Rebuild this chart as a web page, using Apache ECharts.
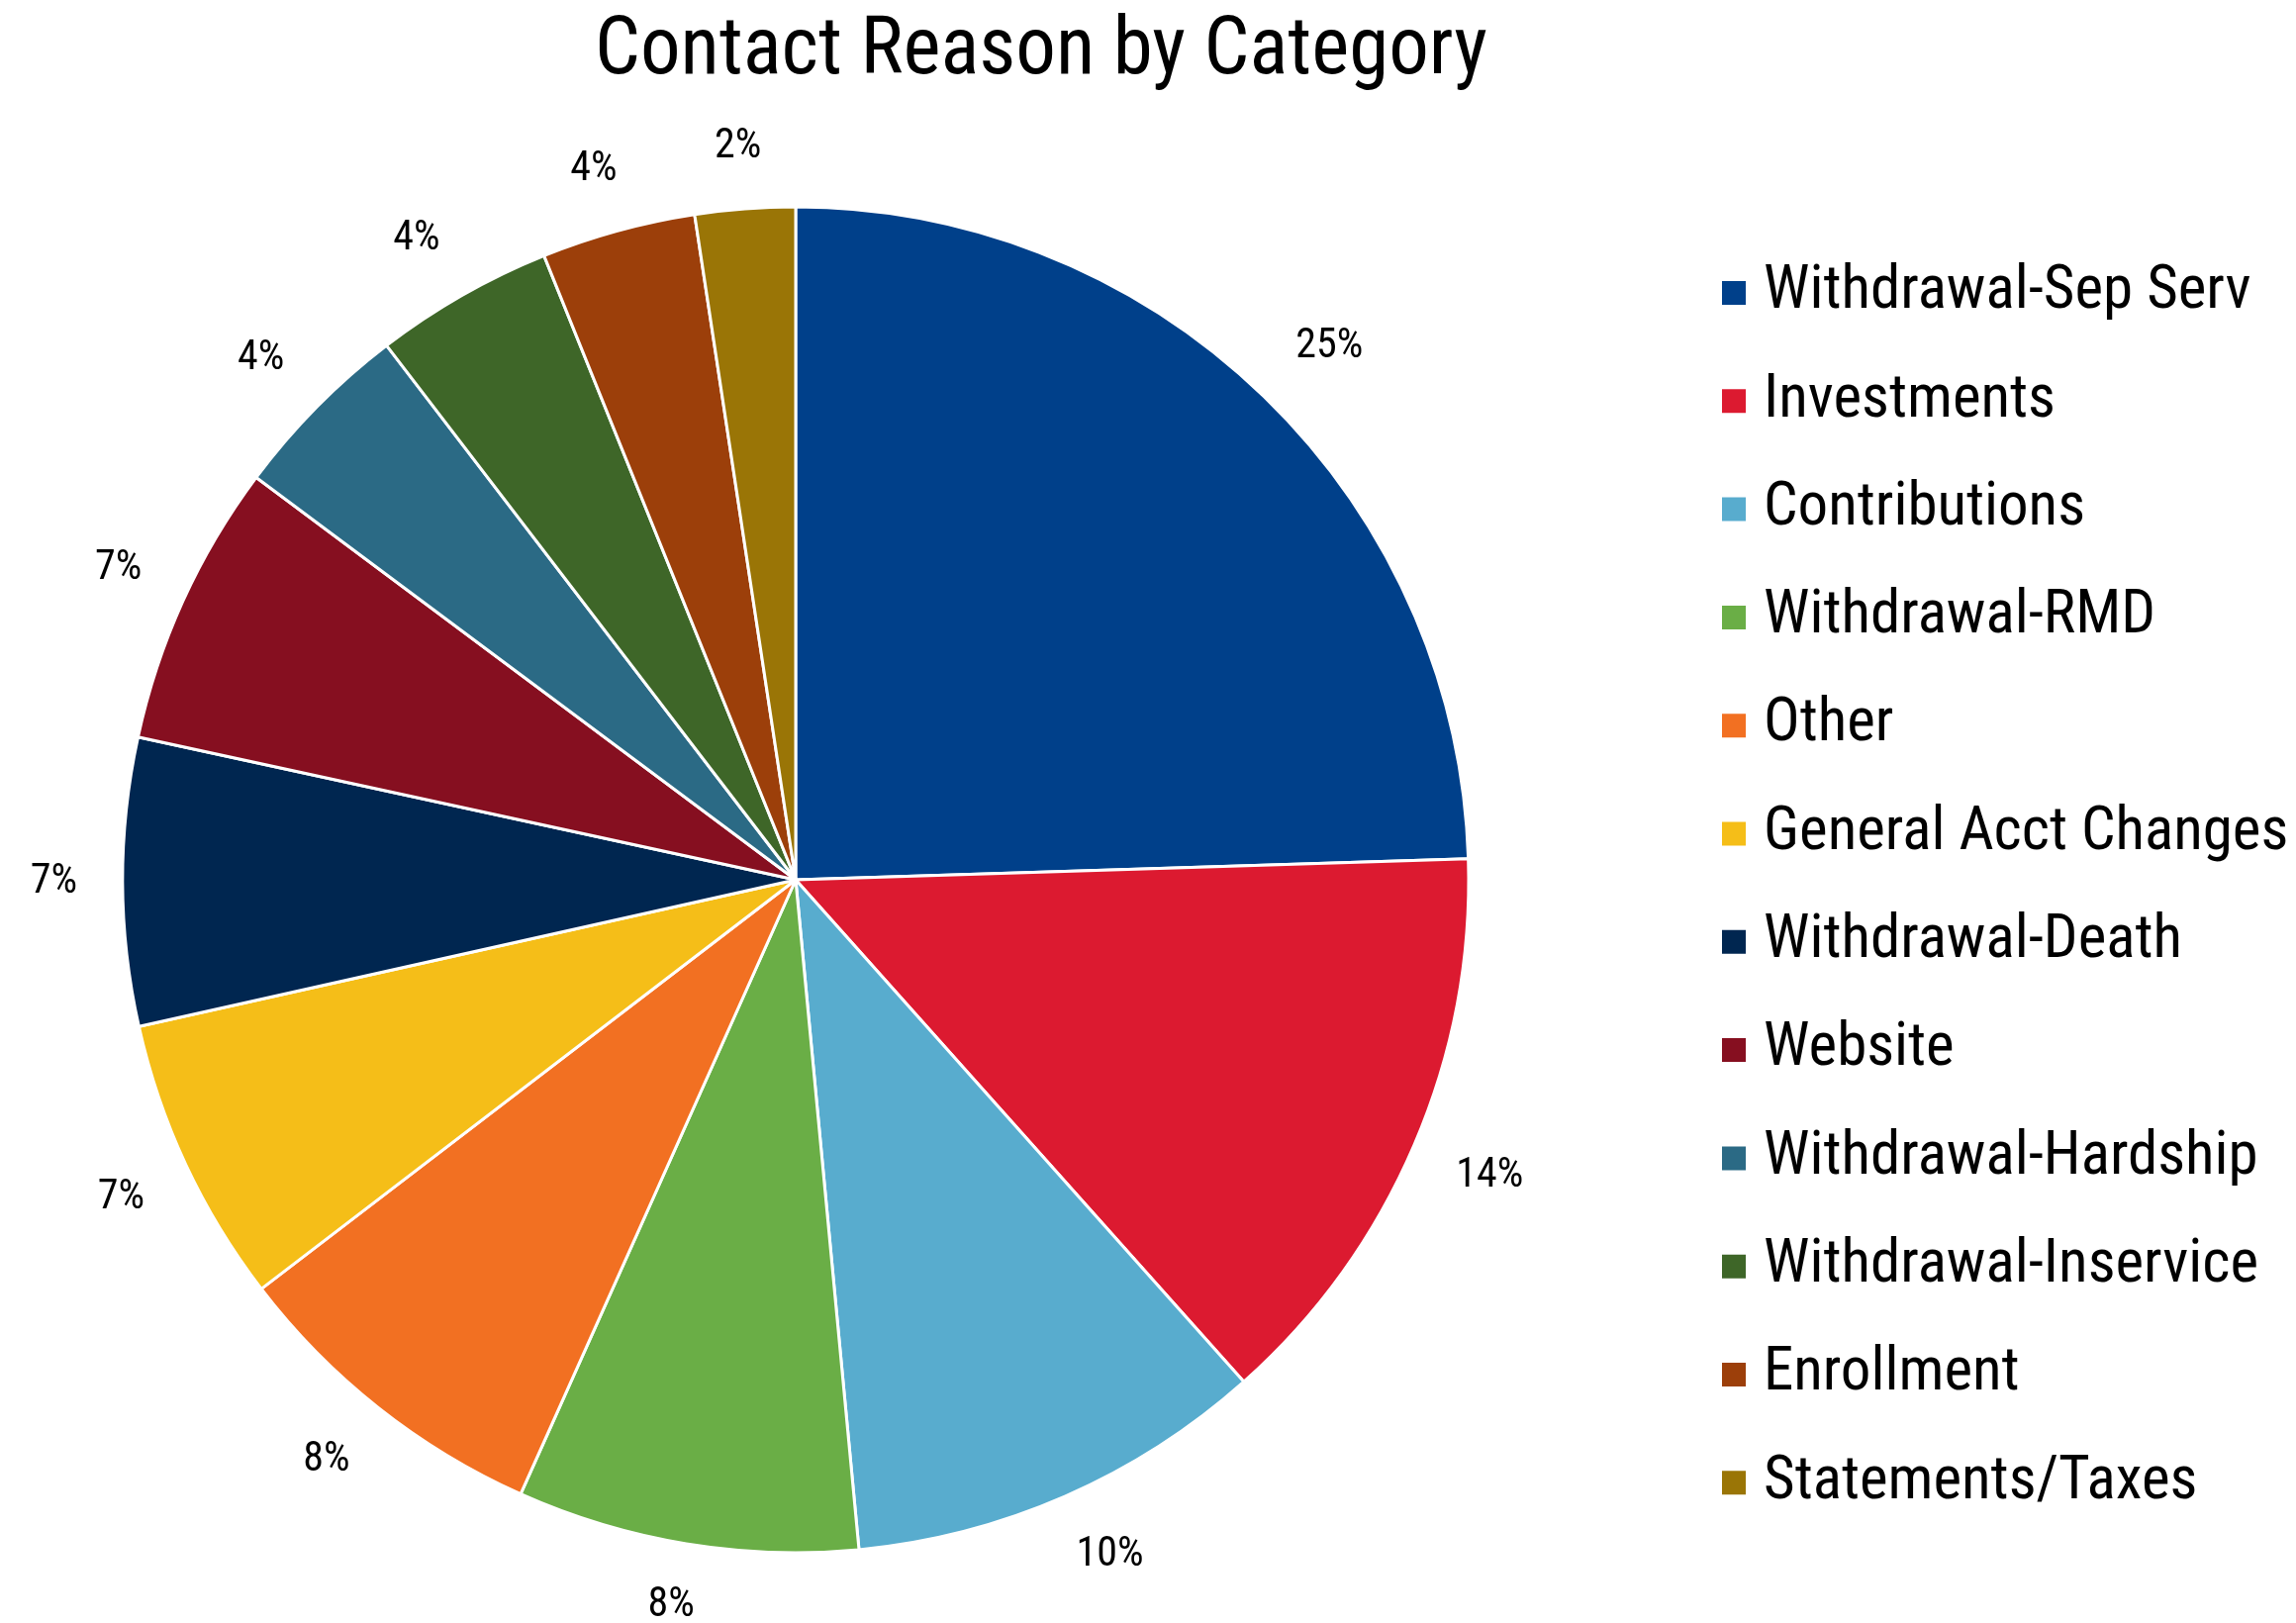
<!DOCTYPE html>
<html>
<head>
<meta charset="utf-8">
<script src="https://cdn.jsdelivr.net/npm/echarts@6/dist/echarts.min.js"></script>
<style>
  html, body { margin: 0; padding: 0; background: #ffffff; }
  #chart { width: 2320px; height: 1640px; }
</style>
</head>
<body>
<div id="chart"></div>
<script>
const categories = [
  'Withdrawal-Sep Serv', 'Investments', 'Contributions', 'Withdrawal-RMD', 'Other',
  'General Acct Changes', 'Withdrawal-Death', 'Website', 'Withdrawal-Hardship',
  'Withdrawal-Inservice', 'Enrollment', 'Statements/Taxes'
];
const values = [24.5, 13.9, 10.1, 8.2, 7.9, 6.9, 6.9, 6.8, 4.4, 4.3, 3.7, 2.4];
const colors = [
  '#00408A', '#DC1A30', '#58ACCE', '#6AAE46', '#F27022', '#F5BE18',
  '#002650', '#860F20', '#2B6A85', '#3E6628', '#9C3F0A', '#9A7506'
];

const FONT = 'Roboto, "Liberation Sans", Arial, sans-serif';
const STRETCH = 'condensed';
const CX = 804, CY = 889, R = 680, LABEL_DIST = 726, LABEL_SIZE = 42;

const total = values.reduce((a, b) => a + b, 0);
const midAngles = [];
(function () {
  let acc = 0;
  values.forEach(v => { midAngles.push((acc + v / 2) / total * Math.PI * 2); acc += v; });
})();
const clamp = v => Math.max(-1, Math.min(1, v));

const chart = echarts.init(document.getElementById('chart'), null, { renderer: 'canvas' });
const pieData = categories.map((name, i) => ({ name, value: values[i], itemStyle: { color: colors[i] } }));

chart.setOption({
  backgroundColor: '#ffffff',
  animation: false,
  title: {
    text: 'Contact Reason by Category',
    left: 596,
    top: 8,
    textStyle: { fontFamily: FONT, fontSize: 81, fontWeight: STRETCH, color: '#000000' }
  },
  legend: {
    orient: 'vertical',
    left: 1733,
    top: 255,
    icon: 'rect',
    itemWidth: 26,
    itemHeight: 26,
    itemGap: 37.3,
    data: categories,
    textStyle: { fontFamily: FONT, fontWeight: STRETCH, fontSize: 61, lineHeight: 72, color: '#000000', padding: [0, 0, 0, 12] }
  },
  series: [
    {
      type: 'pie',
      center: [CX, CY],
      radius: [0, R],
      startAngle: 90,
      clockwise: true,
      avoidLabelOverlap: false,
      data: pieData,
      itemStyle: { borderColor: '#ffffff', borderWidth: 3 },
      label: {
        show: true,
        position: 'outside',
        fontFamily: FONT,
        fontWeight: STRETCH,
        fontSize: LABEL_SIZE,
        color: '#000000',
        formatter: p => Math.round(p.percent) + '%'
      },
      labelLine: { show: false },
      labelLayout: function (params) {
        const a = midAngles[params.dataIndex];
        const ux = Math.sin(a), uy = -Math.cos(a);
        const w = params.labelRect.width, h = LABEL_SIZE * 0.8;
        return {
          x: CX + ux * LABEL_DIST + (w / 2) * clamp(ux * 2),
          y: CY + uy * LABEL_DIST + (h / 2) * clamp(uy * 2),
          align: 'center',
          verticalAlign: 'middle'
        };
      },
      emphasis: { disabled: true }
    }
  ]
});
</script>
</body>
</html>
